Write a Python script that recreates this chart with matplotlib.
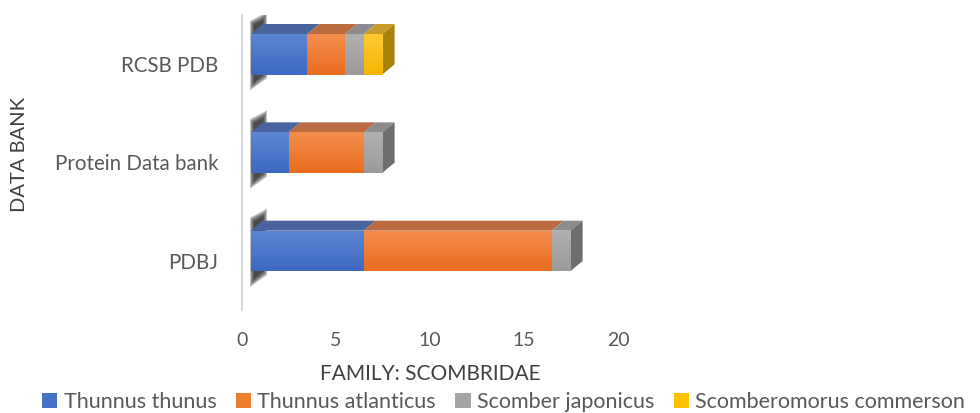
import matplotlib.pyplot as plt
import numpy as np
from matplotlib.colors import to_rgb
from matplotlib.patches import Polygon, Patch
from matplotlib.transforms import IdentityTransform

banks = ['PDBJ', 'Protein Data bank', 'RCSB PDB']
species = ['Thunnus thunus', 'Thunnus atlanticus', 'Scomber japonicus',
           'Scomberomorus commerson']
thunnus_thunus = [6, 2, 3]
thunnus_atlanticus = [10, 4, 2]
scomber_japonicus = [1, 1, 1]
scomberomorus_commerson = [0, 0, 1]
series = [thunnus_thunus, thunnus_atlanticus, scomber_japonicus, scomberomorus_commerson]

front_col = ['#4472C4', '#ED7D31', '#A5A5A5', '#FFC000']
grad_top = ['#5C86D2', '#F38D4C', '#B0B0B0', '#FFCA33']
grad_bot = ['#3C68C0', '#E86C1C', '#9A9A9A', '#F2B500']
top_col = ['#4A64A0', '#BA6B40', '#8C8C8C', '#C79C2A']
side_col = ['#2F5597', '#A9561F', '#6E6E6E', '#A8820A']

plt.rcParams['font.family'] = ['Lato', 'DejaVu Sans']
txt = '#595959'

fig = plt.figure(figsize=(9.8, 4.13), dpi=100)
W, H = 980, 413
ax = fig.add_axes([242 / W, (H - 310) / H, 376 / W, 295 / H])
ax.set_xlim(0, 20)
ax.set_ylim(-0.5, 2.5)

for s in ['top', 'right', 'bottom']:
    ax.spines[s].set_visible(False)
ax.spines['left'].set_color('#D9D9D9')
ax.spines['left'].set_linewidth(1.5)
ax.set_xticks([0, 5, 10, 15, 20])
ax.set_yticks(range(len(banks)))
ax.set_yticklabels(banks)
ax.tick_params(length=0, labelcolor=txt)
ax.tick_params(axis='x', pad=16, labelsize=14)
ax.tick_params(axis='y', pad=17, labelsize=14.8)
ax.set_xlabel('FAMILY: SCOMBRIDAE', fontsize=15, color='#404040', labelpad=11)
fig.text(20 / W, 0.625, 'DATA BANK', rotation=90, fontsize=14.5, color='#404040',
         ha='center', va='center')

# pixel offsets of the 3D look
shift_x, shift_y = 9, 10      # front face relative to category
depth_x, depth_y = 12, 10     # depth of the bar
bar_h = 0.41

to_px = ax.transData.transform
ident = IdentityTransform()


def quad(pts, color, z, alpha=1.0):
    ax.add_patch(Polygon(pts, closed=True, transform=ident, facecolor=color,
                         edgecolor='none', alpha=alpha, zorder=z))


for i in range(len(banks)):
    left = 0.0
    total = sum(s[i] for s in series)
    # soft shadow on the wall
    x0, yb = to_px((0, i - bar_h / 2))
    _, yt = to_px((0, i + bar_h / 2))
    x0 += shift_x
    yb += shift_y
    yt += shift_y
    for g in range(5):
        quad([(x0 - 1 + g, yb - 16 + g * 2), (x0 - 1 + g, yt + depth_y + 3 - g),
              (x0 + depth_x + 4 - g, yt + depth_y + 12 - g * 2),
              (x0 + depth_x + 4 - g, yb - 4 + g)], '#202020', 1, alpha=0.28)
    for k, s in enumerate(series):
        v = s[i]
        if v == 0:
            continue
        xa, yb = to_px((left, i - bar_h / 2))
        xb, yt = to_px((left + v, i + bar_h / 2))
        xa += shift_x
        xb += shift_x
        yb += shift_y
        yt += shift_y
        # front face with a soft vertical gradient
        c1, c2 = np.array(to_rgb(grad_top[k])), np.array(to_rgb(grad_bot[k]))
        n = 16
        edges = np.linspace(yt, yb, n + 1)
        for j in range(n):
            c = c1 + (c2 - c1) * (j + 0.5) / n
            quad([(xa, edges[j + 1] - 0.3), (xb, edges[j + 1] - 0.3),
                  (xb, edges[j]), (xa, edges[j])], tuple(c), 3)
        quad([(xa, yt), (xb, yt), (xb + depth_x, yt + depth_y),
              (xa + depth_x, yt + depth_y)], top_col[k], 2)
        left += v
        if left == total:
            quad([(xb, yb), (xb, yt), (xb + depth_x, yt + depth_y),
                  (xb + depth_x, yb + depth_y)], side_col[k], 2)

handles = [Patch(facecolor=c, edgecolor='none') for c in front_col]
fig.legend(handles, species, loc='lower center', bbox_to_anchor=(0.514, -0.045),
           ncol=4, frameon=False, fontsize=15.5, labelcolor=txt,
           handlelength=0.7, handleheight=0.7, handletextpad=0.3,
           columnspacing=0.9)

fig.savefig('out.png', dpi=100)
